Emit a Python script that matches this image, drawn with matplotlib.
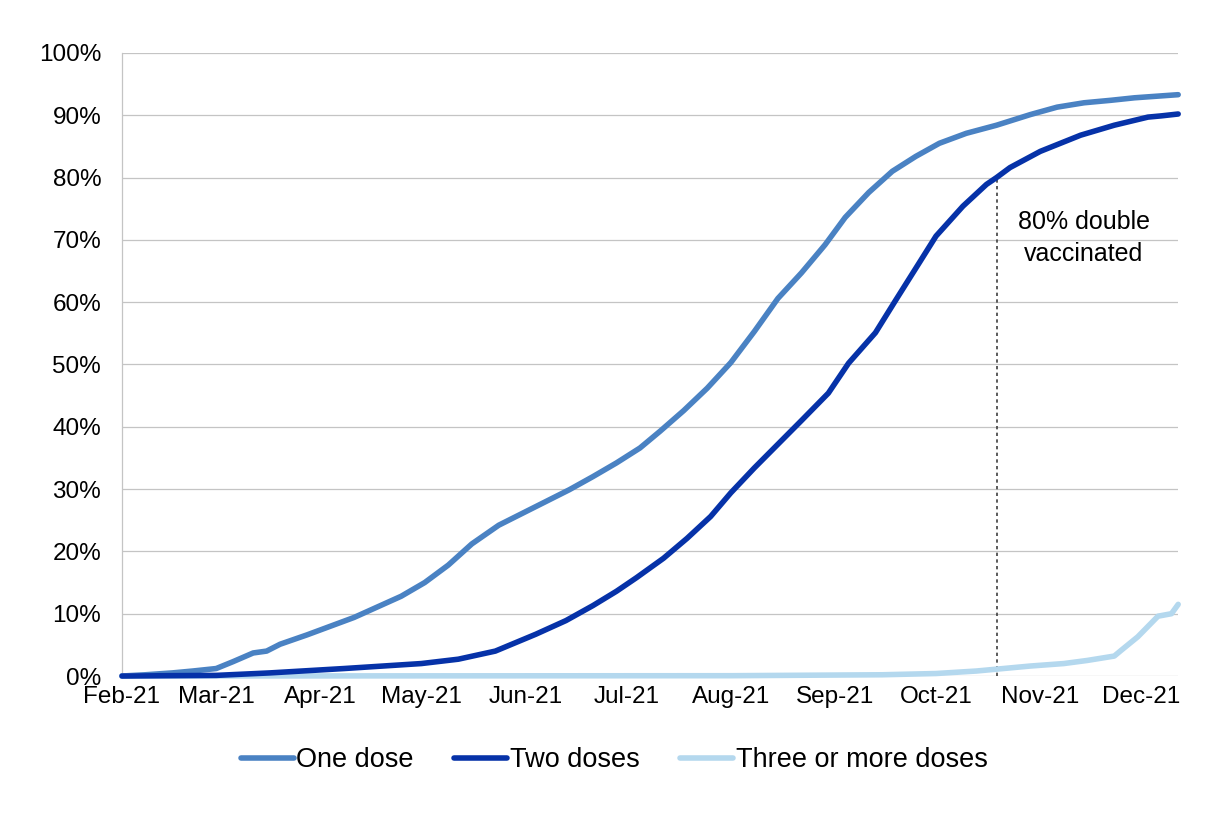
import matplotlib
matplotlib.use("Agg")
import matplotlib.pyplot as plt
import matplotlib.dates as mdates
from matplotlib.ticker import PercentFormatter, MultipleLocator
import pandas as pd

plt.rcParams['font.family'] = ['Liberation Sans', 'DejaVu Sans']

one_dates = ["2021-02-01", "2021-02-08", "2021-02-16", "2021-02-22", "2021-03-01",
             "2021-03-06", "2021-03-12", "2021-03-16", "2021-03-20", "2021-03-28",
             "2021-04-04", "2021-04-11", "2021-04-18", "2021-04-25", "2021-05-02",
             "2021-05-09", "2021-05-16", "2021-05-24", "2021-05-31", "2021-06-07",
             "2021-06-14", "2021-06-21", "2021-06-28", "2021-07-05", "2021-07-11",
             "2021-07-18", "2021-07-25", "2021-08-01", "2021-08-08", "2021-08-15",
             "2021-08-22", "2021-08-29", "2021-09-04", "2021-09-11", "2021-09-18",
             "2021-09-25", "2021-10-02", "2021-10-10", "2021-10-19", "2021-10-29",
             "2021-11-06", "2021-11-14", "2021-11-22", "2021-11-29", "2021-12-12"]
one_dose = [0.0, 0.2, 0.5, 0.8, 1.2,
            2.3, 3.7, 4.0, 5.1, 6.6,
            8.0, 9.4, 11.1, 12.8, 15.0,
            17.8, 21.2, 24.2, 26.1, 28.0,
            29.9, 32.0, 34.2, 36.6, 39.3,
            42.6, 46.2, 50.3, 55.3, 60.6,
            64.7, 69.2, 73.6, 77.6, 81.0,
            83.4, 85.5, 87.1, 88.4, 90.1,
            91.3, 92.0, 92.4, 92.8, 93.3]

two_dates = ["2021-02-01", "2021-03-01", "2021-03-17", "2021-04-08", "2021-05-01",
             "2021-05-12", "2021-05-23", "2021-06-04", "2021-06-13", "2021-06-21",
             "2021-06-28", "2021-07-04", "2021-07-12", "2021-07-19", "2021-07-26",
             "2021-08-01", "2021-08-08", "2021-08-15", "2021-08-22", "2021-08-30",
             "2021-09-05", "2021-09-13", "2021-09-19", "2021-09-26", "2021-10-01",
             "2021-10-09", "2021-10-16", "2021-10-19", "2021-10-23", "2021-11-01",
             "2021-11-13", "2021-11-23", "2021-12-03", "2021-12-07", "2021-12-12"]
two_doses = [0.0, 0.1, 0.5, 1.2, 2.0,
             2.7, 4.0, 6.7, 8.9, 11.3,
             13.6, 15.8, 18.9, 22.1, 25.6,
             29.4, 33.4, 37.2, 41.0, 45.4,
             50.2, 55.1, 60.3, 66.3, 70.6,
             75.4, 78.9, 80.0, 81.6, 84.2,
             86.8, 88.4, 89.7, 89.9, 90.2]

three_dates = ["2021-02-01", "2021-08-01", "2021-09-15", "2021-10-01", "2021-10-13",
               "2021-10-19", "2021-10-29", "2021-11-08", "2021-11-15", "2021-11-23",
               "2021-11-25", "2021-11-30", "2021-12-06", "2021-12-10", "2021-12-12"]
three_doses = [0.0, 0.05, 0.2, 0.4, 0.8,
               1.1, 1.6, 2.0, 2.5, 3.2,
               4.1, 6.3, 9.6, 10.0, 11.5]

marker_date = "2021-10-19"
marker_value = 80

fig = plt.figure(figsize=(12.26, 8.22), dpi=100)
ax = fig.add_axes([0.0995, 0.1776, 0.8615, 0.758])

ax.plot(pd.to_datetime(one_dates), one_dose, color='#4A82C3', lw=4,
        label='One dose', clip_on=False, solid_capstyle='round', zorder=3)
ax.plot(pd.to_datetime(two_dates), two_doses, color='#0632A8', lw=4,
        label='Two doses', clip_on=False, solid_capstyle='round', zorder=4)
ax.plot(pd.to_datetime(three_dates), three_doses, color='#B4D8EE', lw=4,
        label='Three or more doses', clip_on=False, solid_capstyle='round', zorder=3)

ax.vlines(pd.Timestamp(marker_date), 0, marker_value, colors='#404040',
          linestyles=(0, (2, 2)), lw=1.2, zorder=2)
ax.text(pd.Timestamp("2021-11-14"), 70.3, "80% double\nvaccinated", ha='center',
        va='center', fontsize=18, linespacing=1.45)

ax.set_xlim(pd.Timestamp("2021-02-01"), pd.Timestamp("2021-12-12"))
ax.set_ylim(0, 100)
ax.yaxis.set_major_locator(MultipleLocator(10))
ax.yaxis.set_major_formatter(PercentFormatter(decimals=0))
ax.xaxis.set_major_locator(mdates.MonthLocator())
ax.xaxis.set_major_formatter(mdates.DateFormatter('%b-%y'))

ax.grid(axis='y', color='#C4C4C4', lw=0.9)
ax.set_axisbelow(True)
for s in ['top', 'right', 'bottom']:
    ax.spines[s].set_visible(False)
ax.spines['left'].set_color('#C4C4C4')
ax.spines['left'].set_linewidth(0.9)
ax.tick_params(axis='y', length=0, pad=15, labelsize=17.5)
ax.tick_params(axis='x', length=0, pad=7, labelsize=17.5)

ax.legend(loc='upper center', bbox_to_anchor=(0.466, -0.075), ncol=3, frameon=False,
          fontsize=19.5, handlelength=1.95, handletextpad=0.1, columnspacing=1.5)

fig.savefig('out.png', dpi=100)
